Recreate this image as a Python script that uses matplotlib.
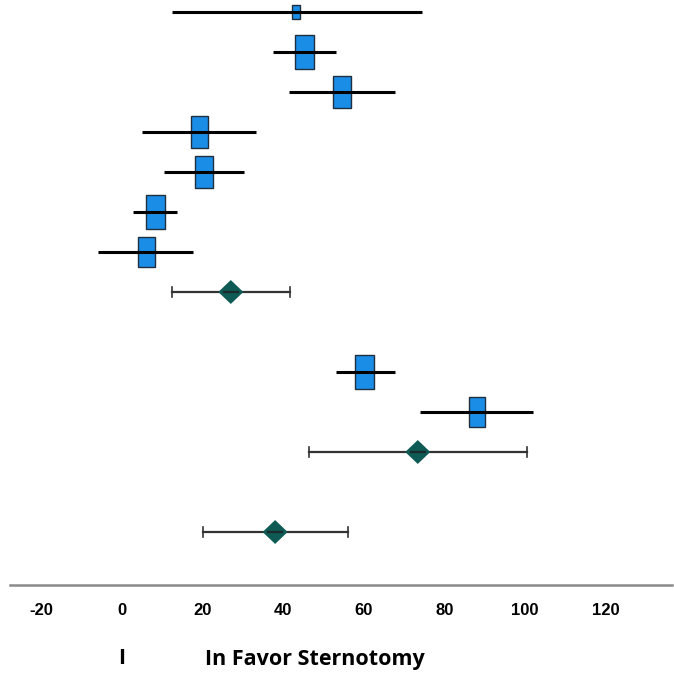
import matplotlib.pyplot as plt
from matplotlib.patches import Rectangle, Polygon
from matplotlib import font_manager

# study rows (top to bottom)
study_rows = [0, 1, 2, 3, 4, 5, 6, 9, 10]
study_est = [43.2, 45.2, 54.6, 19.2, 20.4, 8.2, 6.0, 60.3, 88.1]
study_lo = [12.4, 37.5, 41.4, 5.0, 10.4, 2.7, -6.0, 53.1, 73.9]
study_hi = [74.4, 53.1, 67.7, 33.3, 30.3, 13.6, 17.6, 67.7, 102.0]
study_weight = [2.2, 15.0, 12.5, 12.5, 14.0, 15.0, 12.0, 15.0, 11.5]

# pooled estimates
pooled_rows = [7, 11, 13]
pooled_est = [27.0, 73.4, 38.0]
pooled_lo = [12.4, 46.4, 20.1]
pooled_hi = [41.7, 100.5, 56.1]

xticks = [-20, 0, 20, 40, 60, 80, 100, 120]

# narrow font for tick labels if it is there
names = {f.name for f in font_manager.fontManager.ttflist}
tick_family = "Liberation Sans Narrow" if "Liberation Sans Narrow" in names else "Liberation Sans"

fig = plt.figure(figsize=(6.74, 6.74), dpi=100)
ax = fig.add_axes([10 / 674, 1 - 585 / 674, 662 / 674, 585 / 674])
ax.set_xlim(-27.8, 136.5)
ax.set_ylim(14.325, -0.3)

px_x = 1 / 4.03   # data units per pixel (x)
px_y = 1 / 40.0   # rows per pixel (y)

for r, e, lo, hi, w in zip(study_rows, study_est, study_lo, study_hi, study_weight):
    ax.plot([lo, hi], [r, r], color="black", lw=2.2, solid_capstyle="butt", zorder=2)
    s = (w / 15.0) ** 0.5
    bw = 19 * s * px_x
    bh = 34 * s * px_y
    ax.add_patch(Rectangle((e - bw / 2, r - bh / 2), bw, bh, facecolor="#1a8de6",
                           edgecolor="#1f2f3f", lw=1.0, zorder=3))
    ax.plot([e - bw / 2, e + bw / 2], [r, r], color="black", lw=2.2, zorder=4)

for r, e, lo, hi in zip(pooled_rows, pooled_est, pooled_lo, pooled_hi):
    ax.plot([lo, hi], [r, r], color="#333333", lw=1.6, zorder=2)
    for x in (lo, hi):
        ax.plot([x, x], [r - 5 * px_y, r + 5 * px_y], color="#333333", lw=1.2, zorder=2)
    dw = 11.5 * px_x
    dh = 11 * px_y
    ax.add_patch(Polygon([(e - dw, r), (e, r - dh), (e + dw, r), (e, r + dh)],
                         closed=True, facecolor="#0e5a55", edgecolor="#0e5a55", zorder=3))
    ax.plot([e - dw * 0.6, e + dw * 0.6], [r, r], color="#1a2a2a", lw=1.6, zorder=4)

for sp in ("top", "right", "left"):
    ax.spines[sp].set_visible(False)
ax.spines["bottom"].set_color("#8a8a8a")
ax.spines["bottom"].set_linewidth(1.8)
ax.set_yticks([])
ax.set_xticks(xticks)
ax.set_xticklabels([str(t) for t in xticks], fontweight="bold", fontsize=12,
                   family=[tick_family, "DejaVu Sans"])
ax.tick_params(axis="x", length=0, pad=13, colors="black")

fig.text(122 / 674, 1 - 659 / 674, "I", fontsize=15.5, fontweight="bold",
         family=["Open Sans", "DejaVu Sans"], ha="center", va="center")
fig.text(205 / 674, 1 - 659 / 674, "In Favor Sternotomy", fontsize=15.5, fontweight="bold",
         family=["Open Sans", "DejaVu Sans"], ha="left", va="center")

fig.savefig("out.png", dpi=100)
